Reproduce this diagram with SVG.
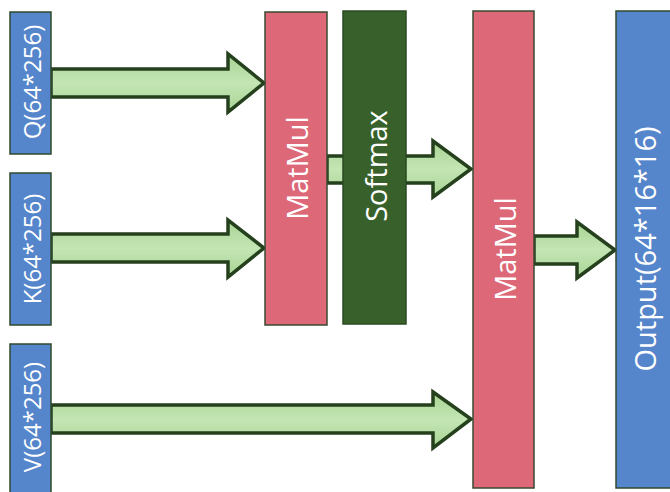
<svg xmlns="http://www.w3.org/2000/svg" width="670" height="492" viewBox="0 0 670 492">
<style>
.blue{fill:#5585cb;stroke:#2f4a2f;stroke-width:1.5}
.pink{fill:#dc6878;stroke:#3a4a30;stroke-width:1.5}
.dg{fill:#38602a;stroke:#2b4a22;stroke-width:1.5}
.arrow{fill:url(#ag);stroke:#25401c;stroke-width:3.5;stroke-linejoin:miter}
.lbl{font-family:"Open Sans","Noto Sans",sans-serif;font-size:24px;fill:#ffffff;text-anchor:middle;dominant-baseline:central}
.big{font-size:29px}
</style>
<defs>
<linearGradient id="ag" x1="0" y1="0" x2="0" y2="1">
<stop offset="0" stop-color="#a8d494"/>
<stop offset="0.5" stop-color="#c4e5b4"/>
<stop offset="1" stop-color="#a8d494"/>
</linearGradient>
</defs>
<g id="connectors">
<path class="arrow" d="M51,69 H228 V54 L264,83 L228,112 V97 H51 Z"/>
<path class="arrow" d="M51,234 H228 V220 L264,248 L228,277 V262 H51 Z"/>
<path class="arrow" d="M327,156 H433 V141 L471,169 L433,197 V183 H327 Z"/>
<path class="arrow" d="M51,405 H433 V392 L471,419 L433,448 V433 H51 Z"/>
<path class="arrow" d="M534,236 H577 V222 L615,250 L577,278 V264 H534 Z"/>
</g>
<g id="q"><rect class="blue" x="10" y="12" width="41" height="142"/><text class="lbl" transform="translate(31,82) rotate(-90)">Q(64*256)</text></g>
<g id="k"><rect class="blue" x="10" y="173" width="41" height="152"/><text class="lbl" transform="translate(31,249) rotate(-90)">K(64*256)</text></g>
<g id="v"><rect class="blue" x="10" y="344" width="41" height="152"/><text class="lbl" transform="translate(31,417) rotate(-90)">V(64*256)</text></g>
<g id="matmul1"><rect class="pink" x="265" y="12" width="62" height="313"/><text class="lbl big" transform="translate(296,168) rotate(-90)">MatMul</text></g>
<g id="softmax"><rect class="dg" x="343" y="11" width="63" height="313"/><text class="lbl big" transform="translate(375,166) rotate(-90)">Softmax</text></g>
<g id="matmul2"><rect class="pink" x="473" y="11" width="61" height="477"/><text class="lbl big" transform="translate(504,249) rotate(-90)">MatMul</text></g>
<g id="output"><rect class="blue" x="616" y="11" width="60" height="477"/><text class="lbl big" transform="translate(644,249) rotate(-90)">Output(64*16*16)</text></g>
</svg>
